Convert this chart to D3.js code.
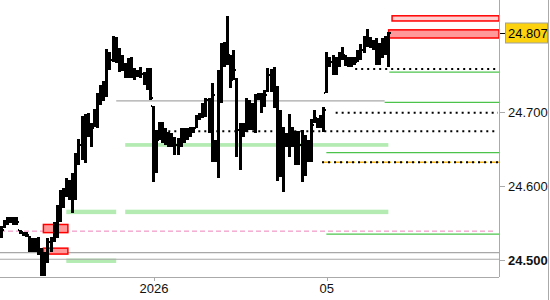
<!DOCTYPE html>
<html>
<head>
<meta charset="utf-8">
<script src="https://cdn.jsdelivr.net/npm/d3@7"></script>
<style>
  html, body { margin: 0; padding: 0; background: #fff; }
  svg { display: block; font-family: "Liberation Sans", Arial, sans-serif; }
</style>
</head>
<body>
<div id="chart"></div>
<script>
// OHLC bars, one per hour, index 0..125
const opens = [
  24.535, 24.545, 24.551, 24.554, 24.553, 24.555, 24.540, 24.538, 24.535, 24.532,
  24.516, 24.527, 24.514, 24.511, 24.486, 24.507, 24.524, 24.527, 24.547, 24.568,
  24.588, 24.592, 24.601, 24.605, 24.615, 24.638, 24.655, 24.683, 24.678, 24.676,
  24.680, 24.700, 24.716, 24.723, 24.737, 24.777, 24.770, 24.797, 24.784, 24.770,
  24.764, 24.757, 24.768, 24.757, 24.750, 24.754, 24.751, 24.743, 24.750, 24.708,
  24.628, 24.662, 24.676, 24.669, 24.662, 24.665, 24.660, 24.655, 24.662, 24.669,
  24.673, 24.672, 24.676, 24.678, 24.692, 24.696, 24.708, 24.716, 24.683, 24.662,
  24.649, 24.743, 24.777, 24.784, 24.777, 24.743, 24.746, 24.676, 24.678, 24.676,
  24.710, 24.703, 24.705, 24.719, 24.722, 24.716, 24.727, 24.750, 24.743, 24.716,
  24.649, 24.662, 24.662, 24.665, 24.676, 24.662, 24.649, 24.655, 24.635, 24.649,
  24.655, 24.685, 24.692, 24.687, 24.689, 24.726, 24.770, 24.768, 24.757, 24.768,
  24.773, 24.777, 24.770, 24.768, 24.770, 24.768, 24.777, 24.784, 24.795, 24.797,
  24.792, 24.791, 24.770, 24.784, 24.791, 24.797
];
const highs = [
  24.546, 24.554, 24.558, 24.558, 24.558, 24.558, 24.541, 24.538, 24.538, 24.532,
  24.530, 24.530, 24.531, 24.516, 24.511, 24.530, 24.531, 24.551, 24.574, 24.595,
  24.597, 24.611, 24.608, 24.618, 24.645, 24.664, 24.695, 24.697, 24.699, 24.685,
  24.704, 24.726, 24.737, 24.742, 24.785, 24.781, 24.803, 24.801, 24.787, 24.777,
  24.766, 24.773, 24.774, 24.760, 24.757, 24.761, 24.754, 24.760, 24.760, 24.708,
  24.676, 24.687, 24.687, 24.678, 24.673, 24.672, 24.666, 24.665, 24.678, 24.678,
  24.678, 24.680, 24.680, 24.696, 24.699, 24.712, 24.719, 24.719, 24.739, 24.662,
  24.757, 24.793, 24.795, 24.830, 24.777, 24.784, 24.746, 24.685, 24.685, 24.719,
  24.716, 24.712, 24.724, 24.726, 24.726, 24.730, 24.760, 24.758, 24.761, 24.735,
  24.703, 24.680, 24.672, 24.697, 24.680, 24.674, 24.674, 24.676, 24.669, 24.662,
  24.691, 24.703, 24.692, 24.696, 24.707, 24.781, 24.774, 24.777, 24.774, 24.781,
  24.788, 24.777, 24.774, 24.774, 24.774, 24.784, 24.792, 24.803, 24.812, 24.801,
  24.797, 24.800, 24.793, 24.800, 24.803, 24.808
];
const lows = [
  24.530, 24.543, 24.547, 24.550, 24.547, 24.547, 24.535, 24.532, 24.531, 24.511,
  24.511, 24.511, 24.507, 24.478, 24.478, 24.496, 24.511, 24.524, 24.530, 24.551,
  24.570, 24.585, 24.581, 24.564, 24.581, 24.628, 24.635, 24.631, 24.666, 24.653,
  24.680, 24.678, 24.710, 24.715, 24.720, 24.757, 24.768, 24.766, 24.754, 24.755,
  24.746, 24.746, 24.746, 24.743, 24.747, 24.746, 24.737, 24.730, 24.716, 24.605,
  24.618, 24.662, 24.658, 24.655, 24.653, 24.653, 24.642, 24.642, 24.653, 24.658,
  24.662, 24.666, 24.672, 24.678, 24.689, 24.692, 24.693, 24.672, 24.632, 24.632,
  24.611, 24.712, 24.761, 24.764, 24.733, 24.743, 24.639, 24.622, 24.666, 24.673,
  24.676, 24.676, 24.672, 24.716, 24.699, 24.707, 24.727, 24.727, 24.705, 24.607,
  24.612, 24.592, 24.653, 24.639, 24.653, 24.628, 24.628, 24.605, 24.614, 24.632,
  24.632, 24.685, 24.678, 24.678, 24.673, 24.726, 24.761, 24.750, 24.750, 24.761,
  24.770, 24.762, 24.761, 24.761, 24.764, 24.768, 24.770, 24.780, 24.788, 24.787,
  24.784, 24.764, 24.764, 24.773, 24.777, 24.761
];
const closes = [
  24.541, 24.551, 24.554, 24.553, 24.555, 24.551, 24.538, 24.535, 24.534, 24.516,
  24.527, 24.514, 24.511, 24.486, 24.507, 24.524, 24.527, 24.547, 24.568, 24.588,
  24.592, 24.601, 24.605, 24.615, 24.638, 24.655, 24.683, 24.678, 24.676, 24.678,
  24.700, 24.716, 24.723, 24.737, 24.777, 24.770, 24.797, 24.784, 24.770, 24.764,
  24.757, 24.768, 24.757, 24.750, 24.754, 24.751, 24.743, 24.750, 24.719, 24.628,
  24.662, 24.676, 24.669, 24.662, 24.665, 24.660, 24.655, 24.662, 24.669, 24.673,
  24.672, 24.676, 24.678, 24.692, 24.696, 24.708, 24.716, 24.683, 24.723, 24.649,
  24.743, 24.777, 24.784, 24.777, 24.743, 24.757, 24.676, 24.678, 24.676, 24.710,
  24.703, 24.705, 24.719, 24.722, 24.716, 24.723, 24.750, 24.743, 24.716, 24.649,
  24.662, 24.662, 24.665, 24.676, 24.662, 24.649, 24.655, 24.635, 24.649, 24.655,
  24.683, 24.692, 24.687, 24.689, 24.703, 24.770, 24.768, 24.757, 24.768, 24.773,
  24.777, 24.770, 24.768, 24.770, 24.768, 24.777, 24.784, 24.795, 24.797, 24.792,
  24.791, 24.770, 24.784, 24.791, 24.797, 24.807
];

// axis stuff
const yTickValues = [24.7, 24.6, 24.5];
const xTickIdx = [49.4, 105.1];
const xTickLabels = ["2026", "05"];
const lastPrice = 24.807;

// levels: [top, bottom, fromIdx, toIdx]  (null toIdx = runs to the right edge)
const redZones = [
  [24.830, 24.823, 126.2, null],
  [24.811, 24.800, 125.1, null],
  [24.548, 24.537, 13.7, 21.6],
  [24.516, 24.508, 13.7, 21.6]
];
const greenBands = [
  [24.658, 24.653, 40.1, 125],
  [24.568, 24.562, 21.1, 37.2],
  [24.568, 24.562, 40.1, 125],
  [24.502, 24.496, 21.1, 37.2]
];
// [value, fromIdx]
const dottedLevels = [[24.758, 114.3], [24.699, 108], [24.674, 54], [24.632, 103.6]];
const greenLines = [[24.754, 125.3], [24.713, 123.8], [24.645, 105], [24.535, 105]];
// [value, fromIdx, toIdx]
const grayLines = [[24.715, 37.2, 123.8], [24.510, null, null], [24.501, null, null]];
const pinkLevel = 24.539;
const orangeLevel = 24.632;

const W = 550, H = 300;
const plotR = 499, plotB = 277;

const svg = d3.select("#chart").append("svg")
    .attr("width", W)
    .attr("height", H);

svg.append("rect").attr("width", W).attr("height", H).attr("fill", "#fff");

const x = d3.scaleLinear().domain([-0.3, 160.7]).range([0, plotR]);
const y = d3.scaleLinear().domain([24.5, 24.7]).range([260, 112]);

const lev = svg.append("g");
const xs = v => v == null ? plotR : x(v);

// green bands
lev.selectAll(".band").data(greenBands).join("rect")
    .attr("x", d => x(d[2]))
    .attr("width", d => xs(d[3]) - x(d[2]))
    .attr("y", d => y(d[0]))
    .attr("height", d => y(d[1]) - y(d[0]))
    .attr("fill", "#b3ebb3");

// gray lines
lev.selectAll(".gray").data(grayLines).join("line")
    .attr("x1", d => d[1] == null ? 0 : x(d[1]))
    .attr("x2", d => xs(d[2]))
    .attr("y1", d => y(d[0])).attr("y2", d => y(d[0]))
    .attr("stroke", "#a8a8a8").attr("stroke-width", 1.2);

// pink dashed
lev.append("line")
    .attr("x1", 0).attr("x2", 496)
    .attr("y1", y(pinkLevel)).attr("y2", y(pinkLevel))
    .attr("stroke", "#ee82b8").attr("stroke-width", 1)
    .attr("stroke-dasharray", "5,3");

// green thin lines
lev.selectAll(".gline").data(greenLines).join("line")
    .attr("x1", d => x(d[1])).attr("x2", plotR)
    .attr("y1", d => y(d[0])).attr("y2", d => y(d[0]))
    .attr("stroke", "#4cc44c").attr("stroke-width", 1.2);

// orange dashes under the last dotted level
lev.append("line")
    .attr("x1", x(103.6)).attr("x2", plotR)
    .attr("y1", y(orangeLevel)).attr("y2", y(orangeLevel))
    .attr("stroke", "#f5b81c").attr("stroke-width", 1.5)
    .attr("stroke-dasharray", "9,3");

// dotted black
lev.selectAll(".dot").data(dottedLevels).join("line")
    .attr("x1", d => x(d[1])).attr("x2", 498)
    .attr("y1", d => y(d[0])).attr("y2", d => y(d[0]))
    .attr("stroke", "#000").attr("stroke-width", 2)
    .attr("stroke-dasharray", "2,4");

// red zones
lev.selectAll(".zone").data(redZones).join("rect")
    .attr("x", d => x(d[2]))
    .attr("width", d => xs(d[3]) - x(d[2]))
    .attr("y", d => y(d[0]))
    .attr("height", d => y(d[1]) - y(d[0]))
    .attr("fill", (d, i) => i === 0 ? "#ffd0d0" : "#f99")
    .attr("stroke", "#f00").attr("stroke-width", 1.5);

// OHLC bars - body a bit heavier so they read like the original
const bars = d3.range(highs.length);
const bg = svg.append("g").attr("shape-rendering", "crispEdges").attr("fill", "#000");
bg.selectAll(".hl").data(bars).join("rect")
    .attr("x", i => Math.round(x(i)) - 1)
    .attr("width", 2.6)
    .attr("y", i => y(highs[i]))
    .attr("height", i => Math.max(2, y(lows[i]) - y(highs[i])));
bg.selectAll(".op").data(bars).join("rect")
    .attr("x", i => Math.round(x(i)) - 2)
    .attr("width", 1)
    .attr("y", i => y(opens[i]) - 1)
    .attr("height", 2);
bg.selectAll(".cl").data(bars).join("rect")
    .attr("x", i => Math.round(x(i)) + 1)
    .attr("width", 1.5)
    .attr("y", i => y(closes[i]) - 1)
    .attr("height", 2);

// frame
const ax = svg.append("g").attr("shape-rendering", "crispEdges");
ax.append("line").attr("x1", plotR + 0.5).attr("x2", plotR + 0.5).attr("y1", 0).attr("y2", plotB)
    .attr("stroke", "#aaa");
ax.append("line").attr("x1", 0).attr("x2", plotR).attr("y1", plotB + 0.5).attr("y2", plotB + 0.5)
    .attr("stroke", "#aaa");
ax.append("line").attr("x1", 548.5).attr("x2", 548.5).attr("y1", 0).attr("y2", H)
    .attr("stroke", "#aaa");

// right axis
const yAxis = svg.append("g");
yAxis.selectAll(".yt").data(yTickValues).join("line")
    .attr("x1", plotR + 1).attr("x2", plotR + 6)
    .attr("y1", d => Math.round(y(d)) + 0.5).attr("y2", d => Math.round(y(d)) + 0.5)
    .attr("stroke", "#aaa");
yAxis.selectAll(".yl").data(yTickValues).join("text")
    .attr("x", 508)
    .attr("y", d => y(d))
    .attr("dy", "0.36em")
    .attr("font-size", 13)
    .attr("font-weight", d => d === 24.5 ? "bold" : "normal")
    .attr("fill", "#111")
    .text(d3.format(".3f"));

// last price tag
const py = Math.round(y(lastPrice)) + 0.5;
yAxis.append("line").attr("x1", plotR + 1).attr("x2", plotR + 6).attr("y1", py).attr("y2", py)
    .attr("stroke", "#000");
yAxis.append("rect")
    .attr("x", 505.5).attr("y", py - 10.5)
    .attr("width", 42).attr("height", 20)
    .attr("fill", "#fcd20f").attr("stroke", "#a0a0a0");
yAxis.append("text")
    .attr("x", 508).attr("y", py)
    .attr("dy", "0.36em")
    .attr("font-size", 13)
    .attr("fill", "#000")
    .text(d3.format(".3f")(lastPrice));

// bottom axis
const xAxis = svg.append("g");
xAxis.selectAll(".xt").data(xTickIdx).join("line")
    .attr("x1", d => Math.round(x(d)) + 0.5).attr("x2", d => Math.round(x(d)) + 0.5)
    .attr("y1", plotB).attr("y2", plotB + 4)
    .attr("stroke", "#aaa");
xAxis.selectAll(".xl").data(xTickIdx).join("text")
    .attr("x", d => x(d))
    .attr("y", 293)
    .attr("text-anchor", "middle")
    .attr("font-size", 13)
    .attr("fill", "#111")
    .text((d, i) => xTickLabels[i]);
</script>
</body>
</html>
